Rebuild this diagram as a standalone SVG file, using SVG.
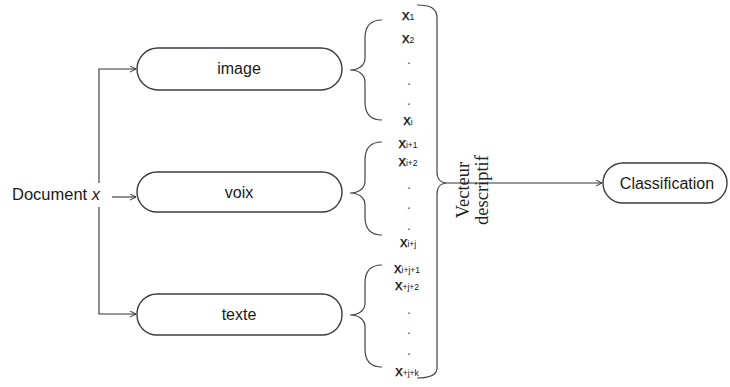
<svg xmlns="http://www.w3.org/2000/svg" width="730" height="387" viewBox="0 0 730 387">
<style>
.box{fill:#fff;stroke:#3c3c3c;stroke-width:1.4}
.lbl{font-family:"Liberation Sans",Arial,sans-serif;font-size:16px;fill:#1a1a1a;text-anchor:middle}
.conn{fill:none;stroke:#333;stroke-width:1.1}
.brace{fill:none;stroke:#444;stroke-width:1.2}
.xv{font-family:"Liberation Sans",Arial,sans-serif;font-size:15px;fill:#111;text-anchor:middle;stroke:#111;stroke-width:0.25}
.sub{font-size:8.5px;stroke-width:0}
.dot{font-family:"Liberation Sans",Arial,sans-serif;font-size:14px;fill:#555;text-anchor:middle}
.vec{font-family:"Liberation Serif","Times New Roman",serif;font-size:18.5px;fill:#222;text-anchor:middle}
</style>
<defs>
<marker id="arr" markerUnits="userSpaceOnUse" markerWidth="8" markerHeight="8" refX="6" refY="3.5" orient="auto">
<path d="M0,0.5 L6,3.5 L0,6.5" fill="none" stroke="#333" stroke-width="1"/>
</marker>
</defs>
<rect width="730" height="387" fill="#fff"/>

<g id="connectors">
<path class="conn" d="M99,183 L99,69 L136,69" marker-end="url(#arr)"/>
<path class="conn" d="M99,207 L99,314 L136,314" marker-end="url(#arr)"/>
<path class="conn" d="M112,197 L136,197" marker-end="url(#arr)"/>
<path class="conn" d="M447,183 L602,183" marker-end="url(#arr)"/>
</g>

<g id="document">
<text x="12" y="200" font-family="Liberation Sans,Arial,sans-serif" font-size="16.5" fill="#1a1a1a">Document <tspan font-style="italic">x</tspan></text>
</g>

<g id="image">
<rect class="box" x="137" y="48" width="205" height="42" rx="21"/>
<text class="lbl" x="239" y="74">image</text>
</g>
<g id="voix">
<rect class="box" x="137" y="172" width="205" height="40" rx="20"/>
<text class="lbl" x="239" y="198">voix</text>
</g>
<g id="texte">
<rect class="box" x="137" y="294" width="205" height="41" rx="20"/>
<text class="lbl" x="239" y="320">texte</text>
</g>

<g id="brace-image">
<path class="brace" d="M382,20 C370,20 365,26 365,38 L365,58 C365,66 358,70 350,70 C358,70 365,74 365,82 L365,102 C365,114 370,120 382,120"/>
<text class="xv" x="408" y="20">x<tspan class="sub">1</tspan></text>
<text class="xv" x="408" y="43">x<tspan class="sub">2</tspan></text>
<text class="dot" x="409" y="64">.</text>
<text class="dot" x="409" y="85">.</text>
<text class="dot" x="409" y="105">.</text>
<text class="xv" x="408" y="125">x<tspan class="sub">i</tspan></text>
</g>

<g id="brace-voix">
<path class="brace" d="M382,142 C370,142 365,148 365,160 L365,181 C365,189 358,193 350,193 C358,193 365,197 365,205 L365,217 C365,229 370,235 382,235"/>
<text class="xv" x="408" y="148">x<tspan class="sub">i+1</tspan></text>
<text class="xv" x="408" y="166">x<tspan class="sub">i+2</tspan></text>
<text class="dot" x="409" y="189">.</text>
<text class="dot" x="409" y="209">.</text>
<text class="dot" x="409" y="230">.</text>
<text class="xv" x="408" y="247">x<tspan class="sub">i+j</tspan></text>
</g>

<g id="brace-texte">
<path class="brace" d="M382,265 C370,265 365,271 365,283 L365,303 C365,311 358,315 350,315 C358,315 365,319 365,327 L365,349 C365,361 370,367 382,367"/>
<text class="xv" x="407" y="273">x<tspan class="sub">i+j+1</tspan></text>
<text class="xv" x="407" y="290">x<tspan class="sub">+j+2</tspan></text>
<text class="dot" x="409" y="314">.</text>
<text class="dot" x="409" y="334">.</text>
<text class="dot" x="409" y="355">.</text>
<text class="xv" x="407" y="376">x<tspan class="sub">+j+k</tspan></text>
</g>

<g id="vecteur">
<path class="brace" d="M417,5 C430,5 437,8 437,18 L437,172 C437,179 441,183 447,183 C441,183 437,187 437,194 L437,368 C437,375 430,378 417,378"/>
<text class="vec" transform="translate(469,190) rotate(-90)">Vecteur</text>
<text class="vec" transform="translate(488,190) rotate(-90)">descriptif</text>
</g>

<g id="classification">
<rect class="box" x="603" y="163" width="124" height="40" rx="20"/>
<text class="lbl" x="667" y="189" font-size="16.5">Classification</text>
</g>
</svg>
